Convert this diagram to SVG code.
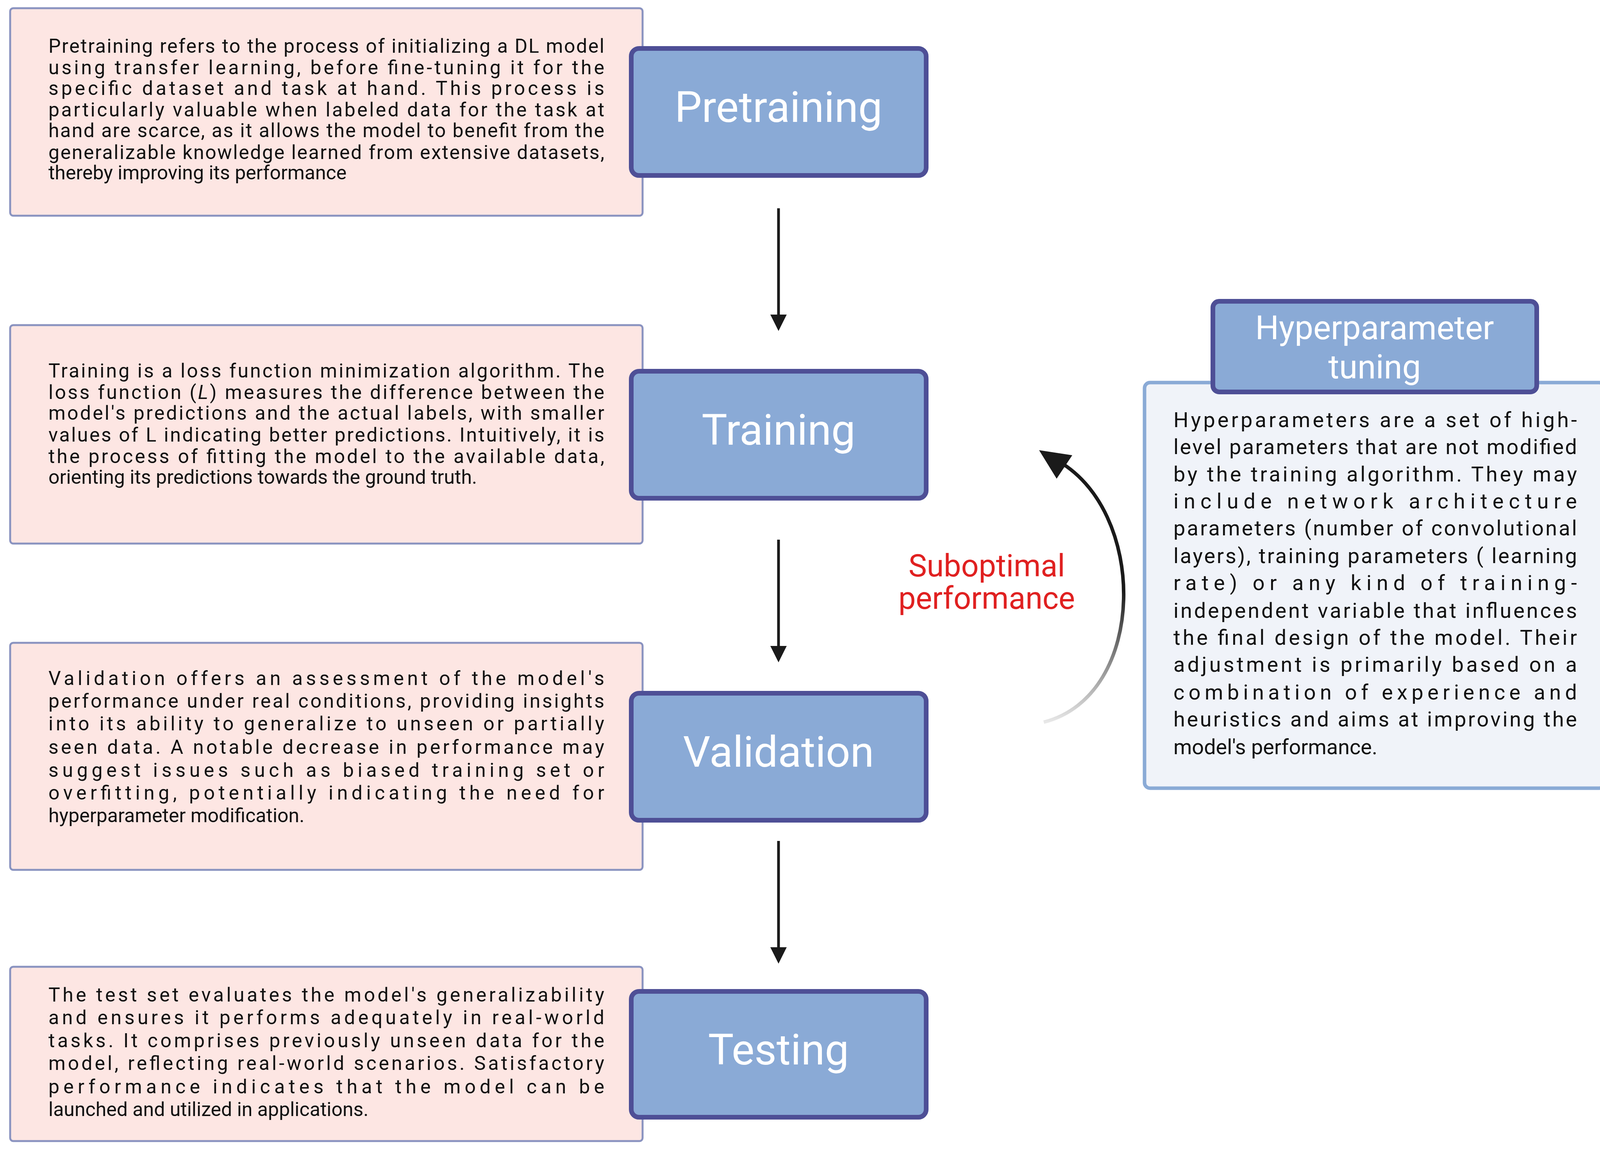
<svg xmlns="http://www.w3.org/2000/svg" width="4139" height="2948" viewBox="0 0 4139 2948">
<style>
.tb{fill:#fde6e3;stroke:#8a93c0;stroke-width:5}
.nd{fill:#8aaad6;stroke:#4e4f96;stroke-width:12}
.nl{font-family:Roboto,"Liberation Sans",sans-serif;font-size:110px;fill:#fff;text-anchor:middle}
.t{font-family:Roboto,"Liberation Sans",sans-serif;font-size:50px;fill:#111}
.h{font-family:Roboto,"Liberation Sans",sans-serif;font-size:54px;fill:#111}
.ar{stroke:#1a1a1a;stroke-width:7;fill:none}
</style>
<defs>
<marker id="ah" markerWidth="6" markerHeight="6" refX="5" refY="3" orient="auto" markerUnits="strokeWidth"><path d="M0,0 L6,3 L0,6 Z" fill="#1a1a1a"/></marker>
<linearGradient id="cg" x1="0" y1="1" x2="0" y2="0"><stop offset="0" stop-color="#1a1a1a" stop-opacity="0.1"/><stop offset="0.5" stop-color="#1a1a1a"/><stop offset="1" stop-color="#1a1a1a"/></linearGradient>
</defs>
<rect width="4139" height="2948" fill="#fff"/>
<g id="pretraining-text">
<rect class="tb" x="26" y="21" width="1619" height="531" rx="8"/>
<text class="t"><tspan x="124" y="135" textLength="1423" lengthAdjust="spacing">Pretraining refers to the process of initializing a DL model</tspan><tspan x="124" y="190" textLength="1423" lengthAdjust="spacing">using transfer learning, before fine-tuning it for the</tspan><tspan x="124" y="243" textLength="1423" lengthAdjust="spacing">specific dataset and task at hand. This process is</tspan><tspan x="124" y="298" textLength="1423" lengthAdjust="spacing">particularly valuable when labeled data for the task at</tspan><tspan x="124" y="351" textLength="1423" lengthAdjust="spacing">hand are scarce, as it allows the model to benefit from the</tspan><tspan x="124" y="407" textLength="1423" lengthAdjust="spacing">generalizable knowledge learned from extensive datasets,</tspan><tspan x="124" y="459">thereby improving its performance</tspan></text>
</g>
<g id="pretraining"><rect class="nd" x="1616" y="124" width="755" height="325" rx="20"/><text class="nl" x="1993" y="312">Pretraining</text></g>
<g id="training-text">
<rect class="tb" x="26" y="832" width="1619" height="559" rx="8"/>
<text class="t"><tspan x="124" y="966" textLength="1423" lengthAdjust="spacing">Training  is a loss function minimization algorithm.  The</tspan><tspan x="124" y="1021" textLength="1423" lengthAdjust="spacing">loss function (<tspan font-style="italic">L</tspan>) measures the difference between the</tspan><tspan x="124" y="1074" textLength="1423" lengthAdjust="spacing">model's predictions and the actual labels, with smaller</tspan><tspan x="124" y="1130" textLength="1423" lengthAdjust="spacing">values of L indicating better predictions. Intuitively,  it is</tspan><tspan x="124" y="1185" textLength="1423" lengthAdjust="spacing">the process of fitting the model to the available data,</tspan><tspan x="124" y="1238">orienting its predictions towards the ground truth.</tspan></text>
</g>
<g id="training"><rect class="nd" x="1616" y="950" width="755" height="325" rx="20"/><text class="nl" x="1993" y="1138">Training</text></g>
<g id="validation-text">
<rect class="tb" x="26" y="1645" width="1619" height="581" rx="8"/>
<text class="t"><tspan x="124" y="1753" textLength="1423" lengthAdjust="spacing">Validation offers an assessment of the model's</tspan><tspan x="124" y="1811" textLength="1423" lengthAdjust="spacing">performance under real conditions, providing insights</tspan><tspan x="124" y="1869" textLength="1423" lengthAdjust="spacing">into its ability to generalize to unseen or partially</tspan><tspan x="124" y="1929" textLength="1423" lengthAdjust="spacing">seen data. A notable decrease in performance may</tspan><tspan x="124" y="1988" textLength="1423" lengthAdjust="spacing">suggest issues such as biased training set or</tspan><tspan x="124" y="2046" textLength="1423" lengthAdjust="spacing">overfitting, potentially indicating the need for</tspan><tspan x="124" y="2104">hyperparameter modification.</tspan></text>
</g>
<g id="validation"><rect class="nd" x="1616" y="1774" width="755" height="325" rx="20"/><text class="nl" x="1993" y="1962">Validation</text></g>
<g id="testing-text">
<rect class="tb" x="26" y="2474" width="1619" height="446" rx="8"/>
<text class="t"><tspan x="124" y="2563" textLength="1423" lengthAdjust="spacing">The test set evaluates the model's generalizability</tspan><tspan x="124" y="2621" textLength="1423" lengthAdjust="spacing">and ensures it performs adequately in real-world</tspan><tspan x="124" y="2680" textLength="1423" lengthAdjust="spacing">tasks. It comprises previously unseen data for the</tspan><tspan x="124" y="2738" textLength="1423" lengthAdjust="spacing">model, reflecting real-world scenarios. Satisfactory</tspan><tspan x="124" y="2798" textLength="1423" lengthAdjust="spacing">performance indicates that the model can be</tspan><tspan x="124" y="2856">launched and utilized in applications.</tspan></text>
</g>
<g id="testing"><rect class="nd" x="1616" y="2537" width="755" height="322" rx="20"/><text class="nl" x="1993" y="2724">Testing</text></g>
<g id="hyperparameter-tuning">
<rect x="2930" y="979" width="1178" height="1038" rx="14" fill="#f0f3f9" stroke="#8aaad6" stroke-width="9"/>
<rect class="nd" x="3105" y="771" width="829" height="232" rx="16" stroke-width="10"/>
<text class="nl" font-size="85" style="font-size:85px"><tspan x="3519" y="868">Hyperparameter</tspan><tspan x="3519" y="968">tuning</tspan></text>
<text class="h"><tspan x="3004" y="1093" textLength="1033" lengthAdjust="spacing">Hyperparameters are a set of high-</tspan><tspan x="3004" y="1162" textLength="1033" lengthAdjust="spacing">level parameters that are not modified</tspan><tspan x="3004" y="1232" textLength="1033" lengthAdjust="spacing">by the training algorithm. They may</tspan><tspan x="3004" y="1301" textLength="1033" lengthAdjust="spacing">include network architecture</tspan><tspan x="3004" y="1370" textLength="1033" lengthAdjust="spacing">parameters (number of convolutional</tspan><tspan x="3004" y="1441" textLength="1033" lengthAdjust="spacing">layers), training parameters ( learning</tspan><tspan x="3004" y="1510" textLength="1033" lengthAdjust="spacing">rate) or any kind of training-</tspan><tspan x="3004" y="1581" textLength="1033" lengthAdjust="spacing">independent variable that influences</tspan><tspan x="3004" y="1650" textLength="1033" lengthAdjust="spacing">the final design of the model. Their</tspan><tspan x="3004" y="1719" textLength="1033" lengthAdjust="spacing">adjustment is primarily based on a</tspan><tspan x="3004" y="1790" textLength="1033" lengthAdjust="spacing">combination of experience and</tspan><tspan x="3004" y="1859" textLength="1033" lengthAdjust="spacing">heuristics and aims at improving the</tspan><tspan x="3004" y="1930">model's performance.</tspan></text>
</g>
<g id="connectors">
<line class="ar" x1="1993" y1="533" x2="1993" y2="840" marker-end="url(#ah)"/>
<line class="ar" x1="1993" y1="1381" x2="1993" y2="1688" marker-end="url(#ah)"/>
<line class="ar" x1="1993" y1="2152" x2="1993" y2="2459" marker-end="url(#ah)"/>
<path d="M2672,1848 C2940,1780 2940,1300 2700,1175" fill="none" stroke="url(#cg)" stroke-width="9"/>
<path d="M2660,1152 L2745,1165 L2705,1225 Z" fill="#1a1a1a"/>
<text font-family="Roboto,'Liberation Sans',sans-serif" font-size="79" fill="#e02020" text-anchor="middle"><tspan x="2526" y="1475">Suboptimal</tspan><tspan x="2526" y="1558">performance</tspan></text>
</g>
</svg>
